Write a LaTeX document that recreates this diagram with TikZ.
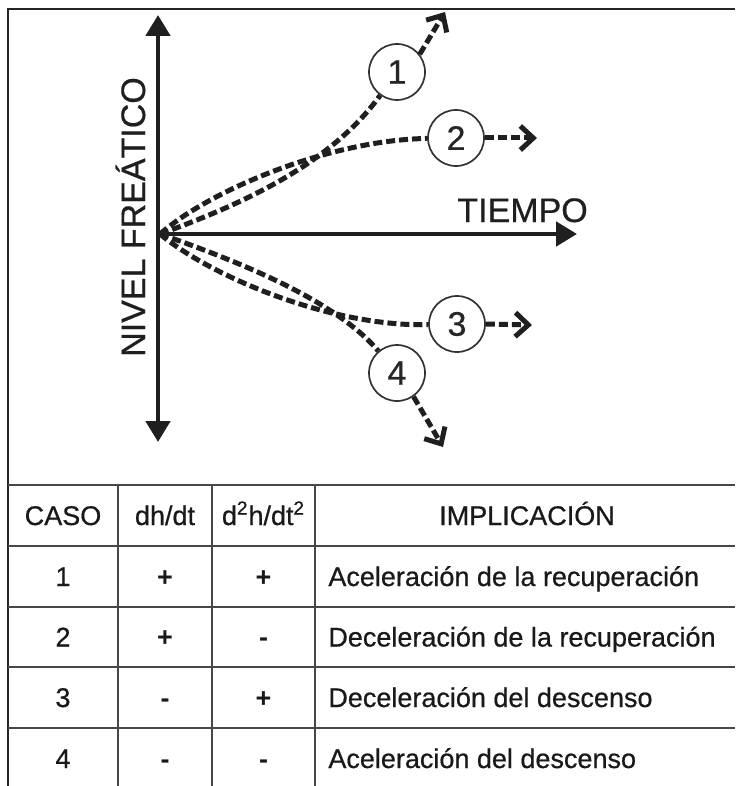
\documentclass[tikz,border=0pt]{standalone}
\usepackage{fontspec}
\setmainfont{Liberation Sans}
\newfontface\scanfont{Liberation Sans}[FakeBold=0.6]
\usetikzlibrary{arrows.meta}
\begin{document}
\begin{tikzpicture}[x=0.5pt,y=-0.5pt,
  frameline/.style={line width=1pt, draw=black!85},
  axisline/.style={line width=2.4pt, draw=black!88},
  tri/.tip={Triangle[length=10.5pt,width=12pt]},
  curve/.style={line width=2.5pt, draw=black!88, dash pattern=on 4.5pt off 2pt},
  curvearrow/.style={curve, -{Straight Barb[length=6.5pt,width=12pt]}},
  num/.style={circle, draw=black!80, line width=0.85pt, minimum size=28pt, inner sep=0pt,
    fill=white, text=black!85, font=\fontsize{17}{17}\scanfont},
  axislabel/.style={inner sep=0pt, text=black!88, font=\fontsize{17}{17}\scanfont},
  gridline/.style={line width=1.4pt, draw=black!72},
  cell/.style={anchor=base, inner sep=0pt, text=black!90, font=\fontsize{13.5}{16}\scanfont},
  celll/.style={cell, anchor=base west},
  sign/.style={cell, font=\fontsize{13.5}{16}\selectfont\bfseries},
]
\useasboundingbox (0,0) rectangle (735,786);
\fill[white] (0,0) rectangle (735,786);

% frame
\draw[frameline] (735,9) -- (8,9) -- (8,786);

% axes
\coordinate (ytop) at (158,15);
\coordinate (ybot) at (158,442);
\coordinate (o) at (160,234);
\coordinate (xend) at (577,234);
\draw[axisline, tri-tri] (ytop) -- (ybot);
\draw[axisline, -tri] (o) -- (xend);

\node[axislabel, rotate=90, anchor=base] (nivel) at (145,217) {NIVEL FREÁTICO};
\node[axislabel, anchor=base west] (tiempo) at (457,222) {TIEMPO};

% circles
\node[num] (c1) at (397,72) {1};
\node[num] (c2) at (456,138) {2};
\node[num] (c3) at (457,324) {3};
\node[num] (c4) at (397,373) {4};

\coordinate (t1) at (445,12);
\coordinate (t2) at (537,138);
\coordinate (t3) at (532,325);
\coordinate (t4) at (443,447);

% curves
\draw[curve] (o) .. controls (240,205) and (330,165) .. (c1);
\draw[curve] (o) .. controls (210,190) and (330,140) .. (c2);
\draw[curve] (o) .. controls (210,276) and (330,327) .. (c3);
\draw[curve] (o) .. controls (240,262) and (335,300) .. (c4);

\draw[curvearrow] (c1.38) -- (t1);
\draw[curvearrow] (c2.east) -- (t2);
\draw[curvearrow] (c3.east) -- (t3);
\draw[curvearrow] (c4.-55) -- (t4);

% table
\foreach \yy in {485,546,607,667,728} \draw[gridline] (8,\yy) -- (735,\yy);
\foreach \xx in {118,212,315} \draw[gridline] (\xx,485) -- (\xx,786);

\node[cell] (h1) at (63,525) {CASO};
\node[cell] (h2) at (165,525) {dh/dt};
\node[cell] (h3) at (263.5,525) {d\textsuperscript{2}h/dt\textsuperscript{2}};
\node[cell] (h4) at (527,525) {IMPLICACIÓN};

\node[cell] (a1) at (63,586) {1};
\node[sign] (b1) at (165,586) {+};
\node[sign] (d1) at (263.5,586) {+};
\node[celll] (e1) at (328,586) {Aceleración de la recuperación};

\node[cell] (a2) at (63,646.5) {2};
\node[sign] (b2) at (165,646.5) {+};
\node[sign] (d2) at (263.5,646.5) {-};
\node[celll] (e2) at (328,646.5) {Deceleración de la recuperación};

\node[cell] (a3) at (63,707) {3};
\node[sign] (b3) at (165,707) {-};
\node[sign] (d3) at (263.5,707) {+};
\node[celll] (e3) at (328,707) {Deceleración del descenso};

\node[cell] (a4) at (63,768) {4};
\node[sign] (b4) at (165,768) {-};
\node[sign] (d4) at (263.5,768) {-};
\node[celll] (e4) at (328,768) {Aceleración del descenso};
\end{tikzpicture}
\end{document}
